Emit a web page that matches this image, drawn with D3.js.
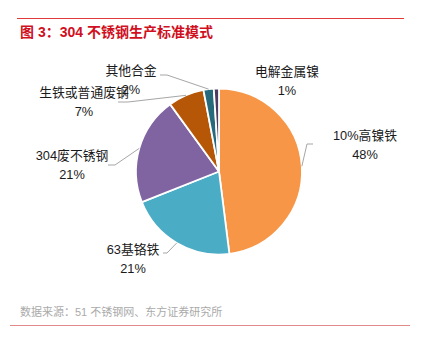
<!DOCTYPE html>
<html><head><meta charset="utf-8">
<script src="https://cdn.jsdelivr.net/npm/d3@7"></script>
<style>html,body{margin:0;padding:0;background:#fff;}svg{display:block;font-family:"Liberation Sans","Noto Sans CJK SC",sans-serif;}</style>
</head><body>
<svg id="c" width="422" height="340"></svg>
<script>
const categories = ["10%高镍铁","63基铬铁","304废不锈钢","生铁或普通废钢","其他合金","电解金属镍"];
const values = [48,21,21,7,2,1];
const percentLabels = ["48%","21%","21%","7%","2%","1%"];
const colors = ["#F79646","#4BACC6","#8064A2","#B65708","#276A7C","#4D3B62"];

const svg = d3.select("#c");
const W = 422, H = 340;
const cx = 219, cy = 171.5, R = 83;

// header rules & text
svg.append("line").attr("x1",17).attr("x2",404).attr("y1",18.5).attr("y2",18.5)
  .attr("stroke","#e03a3a").attr("stroke-width",1);
svg.append("text").attr("x",20).attr("y",37).attr("fill","#d0101e")
  .attr("font-size",14).attr("font-weight","bold").text("图 3：304 不锈钢生产标准模式");
svg.append("text").attr("x",20).attr("y",316).attr("fill","#aaaaaa")
  .attr("font-size",11).text("数据来源：51 不锈钢网、东方证券研究所");
svg.append("line").attr("x1",10).attr("x2",410).attr("y1",325.5).attr("y2",325.5)
  .attr("stroke","#e08a8a").attr("stroke-width",1);

const pie = d3.pie().sort(null).value(d=>d)(values);
const arc = d3.arc().innerRadius(0).outerRadius(R);
const g = svg.append("g").attr("transform",`translate(${cx},${cy})`);
g.selectAll("path").data(pie).join("path")
  .attr("d",arc).attr("fill",(d,i)=>colors[i])
  .attr("stroke","#fff").attr("stroke-width",1.8).attr("stroke-linejoin","round");

// label layout (offsets from pie centre): elbow, line end, text centre
const layout = [
  {elbow:[88,-27.5], end:[94,-27.5], text:[146,-36.5]},
  {elbow:[-52,81.5], end:[-56,81.5], text:[-86,77.5]},
  {elbow:[-104,-6.5], end:[-111,-6.5], text:[-147,-16.5]},
  {elbow:[-91,-69.5], end:[-101,-69.5], text:[-135,-79.5]},
  {elbow:[-52,-96.5], end:[-59,-96.5], text:[-88,-101.5]},
  {elbow:null, end:null, text:[68,-100.5]}
];
const edge = d => { const a=(d.startAngle+d.endAngle)/2; return [R*Math.sin(a), -R*Math.cos(a)]; };
pie.forEach((d,i)=>{
  const L = layout[i];
  if (L.elbow) {
    g.append("polyline").attr("points",[edge(d),L.elbow,L.end].map(p=>p.join(",")).join(" "))
      .attr("fill","none").attr("stroke","#a6a6a6").attr("stroke-width",1);
  }
  const t = g.append("text").attr("text-anchor","middle").attr("font-size",12.8).attr("fill","#1a1a1a");
  t.append("tspan").attr("x",L.text[0]).attr("y",L.text[1]).attr("dominant-baseline","central").text(categories[i]);
  t.append("tspan").attr("x",L.text[0]).attr("y",L.text[1]+19).attr("dominant-baseline","central").text(percentLabels[i]);
});
</script>
</body></html>
